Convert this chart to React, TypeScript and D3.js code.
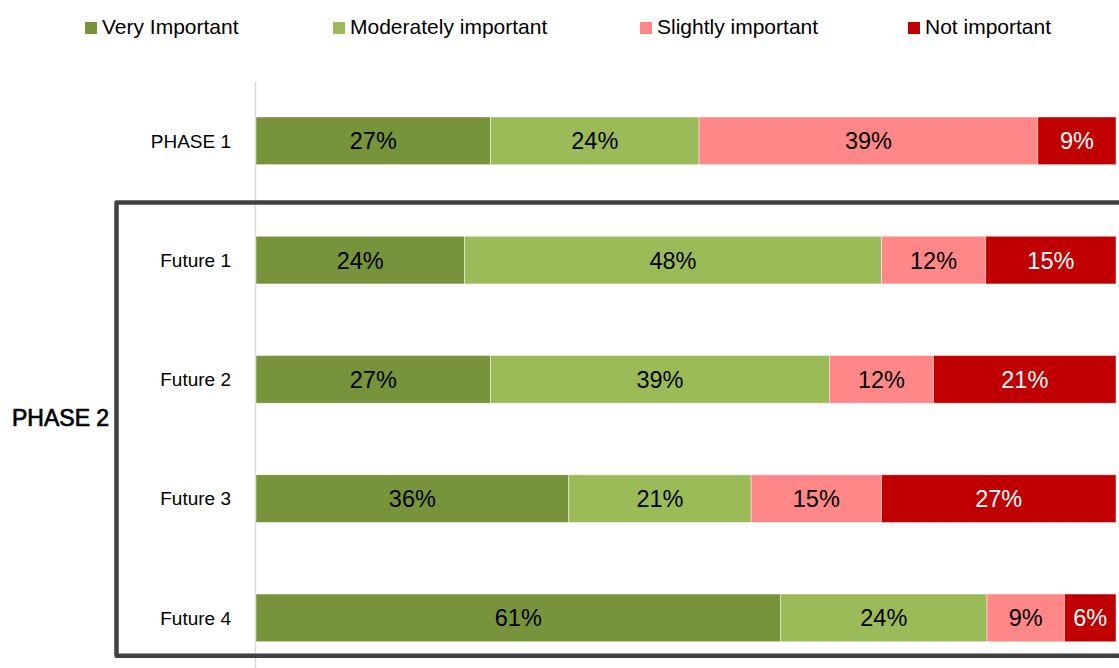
import React from "react";
import * as d3 from "d3";

const categories = ["PHASE 1", "Future 1", "Future 2", "Future 3", "Future 4"];
const seriesNames = ["Very Important", "Moderately important", "Slightly important", "Not important"];
const veryImportant = [27, 24, 27, 36, 61];
const moderatelyImportant = [24, 48, 39, 21, 24];
const slightlyImportant = [39, 12, 12, 15, 9];
const notImportant = [9, 15, 21, 27, 6];
const groupLabel = "PHASE 2";

const colors = ["#77933C", "#9BBB59", "#FF8787", "#C00000"];
const labelColors = ["#000000", "#000000", "#000000", "#FFFFFF"];
const legendX = [85, 333, 640, 908];

const W = 1119;
const H = 668;
const FONT = "'Liberation Sans', Arial, sans-serif";

export default function App() {
  const seriesValues = [veryImportant, moderatelyImportant, slightlyImportant, notImportant];
  const rows = categories.map((c, i) => {
    const vals = seriesValues.map((s) => s[i]);
    const total = d3.sum(vals);
    let acc = 0;
    const segs = vals.map((v, k) => {
      const x0 = acc / total;
      acc += v;
      return { k, v, x0, x1: acc / total };
    });
    return { c, segs };
  });

  const x = d3.scaleLinear().domain([0, 1]).range([256, 1116]);
  const y = d3
    .scaleBand<string>()
    .domain(categories)
    .range([81.2, 677.5])
    .paddingInner(0.6)
    .paddingOuter(0.3);
  const bw = y.bandwidth();

  const boxTop = ((y(categories[0]) as number) + bw + (y(categories[1]) as number)) / 2 + 2;
  const boxBottom = (y(categories[4]) as number) + bw + 14;
  const boxLeft = 116.5;

  return (
    <svg
      width={W}
      height={H}
      style={{ position: "absolute", left: 0, top: 0, background: "#fff" }}
      fontFamily={FONT}
    >
      <rect x={0} y={0} width={W} height={H} fill="#fff" />
      {/* legend */}
      {seriesNames.map((name, i) => (
        <g key={name}>
          <rect x={legendX[i]} y={22} width={12} height={12} fill={colors[i]} />
          <text x={legendX[i] + 17} y={34} fontSize={21} fill="#000">
            {name}
          </text>
        </g>
      ))}
      {/* axis line */}
      <line x1={255.5} x2={255.5} y1={82} y2={677} stroke="#D9D9D9" strokeWidth={1.5} />
      {/* bars */}
      {rows.map((r) => (
        <g key={r.c}>
          {r.segs.map((s) => (
            <rect
              key={s.k}
              x={x(s.x0)}
              y={y(r.c)}
              width={x(s.x1) - x(s.x0)}
              height={bw}
              fill={colors[s.k]}
              stroke="#FFFFFF"
              strokeOpacity={0.6}
              strokeWidth={0.75}
            />
          ))}
          {r.segs.map((s) => (
            <text
              key={"t" + s.k}
              x={(x(s.x0) + x(s.x1)) / 2}
              y={(y(r.c) as number) + bw / 2}
              dy="0.36em"
              textAnchor="middle"
              fontSize={23.5}
              fill={labelColors[s.k]}
            >
              {s.v}%
            </text>
          ))}
          <text
            x={231}
            y={(y(r.c) as number) + bw / 2}
            dy="0.36em"
            textAnchor="end"
            fontSize={19}
            fill="#000"
          >
            {r.c}
          </text>
        </g>
      ))}
      {/* phase 2 bracket */}
      <path
        d={`M ${W + 10} ${boxTop} L ${boxLeft} ${boxTop} L ${boxLeft} ${boxBottom} L ${W + 10} ${boxBottom}`}
        fill="none"
        stroke="#404040"
        strokeWidth={4.5}
        strokeLinejoin="round"
      />
      <text
        x={12}
        y={426}
        fontSize={23}
        fill="#000"
        stroke="#000"
        strokeWidth={0.7}
      >
        {groupLabel}
      </text>
    </svg>
  );
}
